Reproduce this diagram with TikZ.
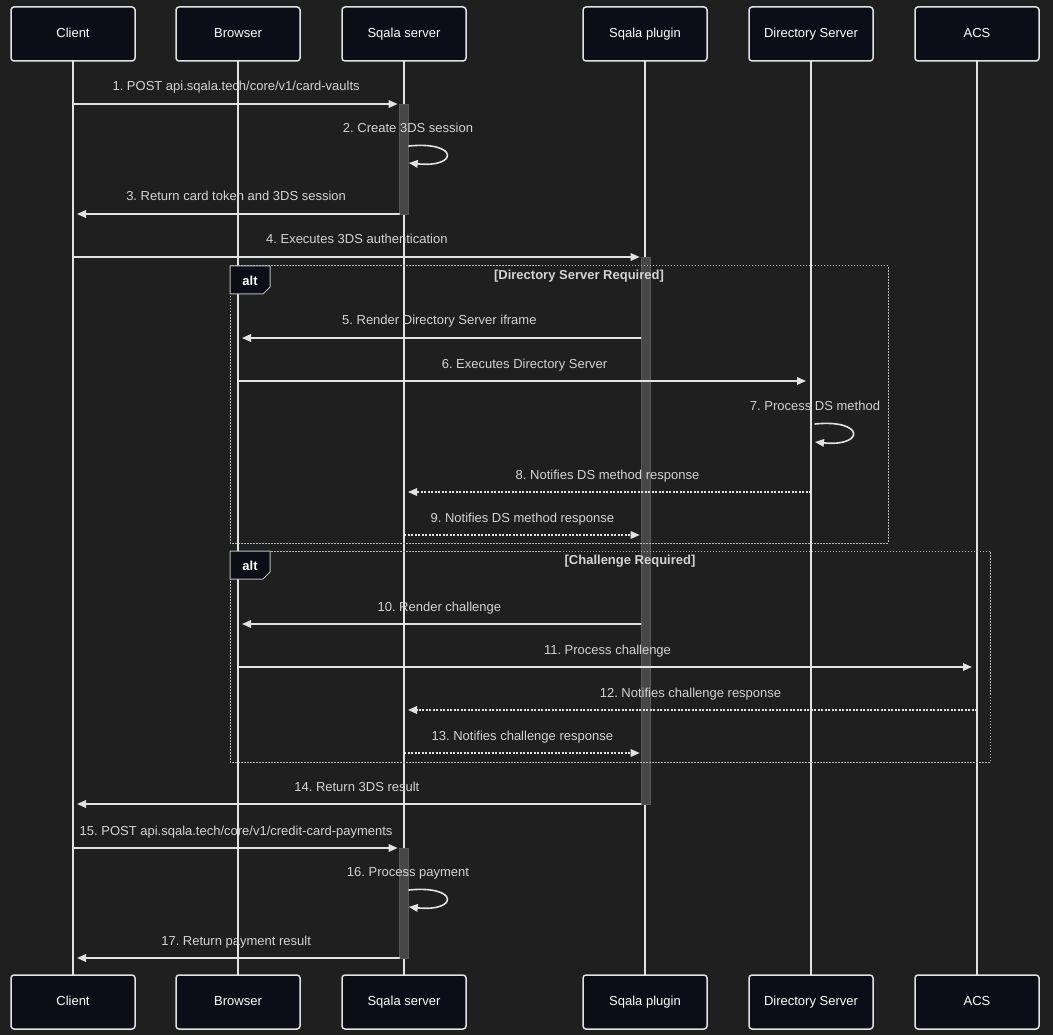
\documentclass[tikz,border=0pt]{standalone}
\usepackage{fontspec}
\setmainfont{Liberation Sans}
\usetikzlibrary{arrows.meta,positioning,calc}
\frenchspacing
\definecolor{bgcol}{HTML}{1F1F1F}
\definecolor{boxcol}{HTML}{0D0D17}
\definecolor{linecol}{HTML}{E2E2E2}
\definecolor{txtcol}{HTML}{D3D3D3}
\definecolor{barcol}{HTML}{474747}
\definecolor{framecol}{HTML}{B8B8B8}
\tikzstyle{every node}=[font=\fontsize{13}{15}\selectfont, text=txtcol]
\tikzstyle{every path}=[line cap=round,line join=round]
\tikzstyle{actor}=[draw=linecol, fill=boxcol, line width=1.5pt, rounded corners=3pt,
  minimum width=124pt, minimum height=54pt, inner sep=0pt, text=white,
  text height=9.5pt, text depth=2.5pt]
\tikzstyle{lifeline}=[draw=linecol, line width=1.5pt]
\tikzstyle{actbar}=[draw=barcol!90!white, fill=barcol, line width=0.6pt,
  minimum width=9pt, inner sep=0pt]
\tikzstyle{msg}=[draw=linecol, line width=1.6pt, -{Triangle[length=9pt,width=7.5pt]}]
\tikzstyle{reply}=[msg, line cap=butt, dash pattern=on 2pt off 1.5pt]
\tikzstyle{msgtxt}=[midway, anchor=base, yshift=13pt, inner sep=0pt]
\tikzstyle{looptxt}=[anchor=base, inner sep=0pt]
\tikzstyle{altframe}=[draw=framecol, line width=1pt, line cap=butt, dash pattern=on 1.5pt off 1.5pt]
\tikzstyle{alttab}=[draw=framecol, fill=boxcol, line width=1pt]
\tikzstyle{alttxt}=[font=\fontsize{13}{15}\selectfont\bfseries, text=white]
\tikzstyle{guard}=[font=\fontsize{13}{15}\selectfont\bfseries, text=txtcol]

\begin{document}
\begin{tikzpicture}[x=1pt,y=-1pt]
  \fill[bgcol] (0,0) rectangle (1053,1035);
  \useasboundingbox (0,0) rectangle (1053,1035);

  % participants, top and bottom
  \foreach \nm/\xx/\txt in {client/73/Client, browser/238/Browser,
    server/404/Sqala server, plugin/645/Sqala plugin,
    ds/811/Directory Server, acs/977/ACS}
  {
    \coordinate (\nm top) at (\xx,34);
    \coordinate (\nm bot) at (\xx,1002);
    \draw[lifeline] (\nm top) -- (\nm bot);
  }

  % activations
  \node[actbar, minimum height=110pt] (srvact1) at (404,159) {};
  \node[actbar, minimum height=547pt] (plugact) at (645.5,530.5) {};
  \node[actbar, minimum height=110pt] (srvact2) at (404,903) {};

  % alt frames
  \draw[altframe] (230,266) rectangle (888,543);
  \draw[altframe] (230,551) rectangle (990,762);

  % messages
  \coordinate (m1) at (0,104);
  \draw[msg, shorten >=1.5pt] (clienttop |- m1) -- (srvact1.west |- m1)
    node[msgtxt] {1. POST api.sqala.tech/core/v1/card-vaults};

  \coordinate (m2) at (0,146);
  \coordinate (m2e) at (0,163);
  \node[looptxt] (m2txt) at (408,132.5) {2. Create 3DS session};
  \draw[msg] (srvact1.east |- m2) .. controls +(50,-5) and +(50,5) .. (srvact1.east |- m2e);

  \coordinate (m3) at (0,214);
  \draw[msg, shorten >=4pt] (srvact1.west |- m3) -- (clienttop |- m3)
    node[msgtxt] {3. Return card token and 3DS session};

  \coordinate (m4) at (0,257);
  \draw[msg, shorten >=1pt] (clienttop |- m4) -- (plugact.west |- m4)
    node[msgtxt] {4. Executes 3DS authentication};

  \coordinate (m5) at (0,338);
  \draw[msg, shorten >=4pt] (plugact.west |- m5) -- (browsertop |- m5)
    node[msgtxt] {5. Render Directory Server iframe};

  \coordinate (m6) at (0,381);
  \draw[msg, shorten >=5pt] (browsertop |- m6) -- (dstop |- m6)
    node[msgtxt] {6. Executes Directory Server};

  \coordinate (m7) at (815,424);
  \coordinate (m7e) at (815,442);
  \node[looptxt] (m7txt) at (815,410.5) {7. Process DS method};
  \draw[msg] (m7) .. controls +(50,-5) and +(50,5) .. (m7e);

  \coordinate (m8) at (0,492);
  \draw[reply, shorten >=4pt] (dstop |- m8) -- (servertop |- m8)
    node[msgtxt] {8. Notifies DS method response};

  \coordinate (m9) at (0,535);
  \draw[reply, shorten >=1pt] (servertop |- m9) -- (plugact.west |- m9)
    node[msgtxt] {9. Notifies DS method response};

  \coordinate (m10) at (0,624);
  \draw[msg, shorten >=4pt] (plugact.west |- m10) -- (browsertop |- m10)
    node[msgtxt] {10. Render challenge};

  \coordinate (m11) at (0,667);
  \draw[msg, shorten >=5pt] (browsertop |- m11) -- (acstop |- m11)
    node[msgtxt] {11. Process challenge};

  \coordinate (m12) at (0,710);
  \draw[reply, shorten >=4pt] (acstop |- m12) -- (servertop |- m12)
    node[msgtxt] {12. Notifies challenge response};

  \coordinate (m13) at (0,753);
  \draw[reply, shorten >=1pt] (servertop |- m13) -- (plugact.west |- m13)
    node[msgtxt] {13. Notifies challenge response};

  \coordinate (m14) at (0,804);
  \draw[msg, shorten >=4pt] (plugact.west |- m14) -- (clienttop |- m14)
    node[msgtxt] {14. Return 3DS result};

  \coordinate (m15) at (0,848);
  \draw[msg, shorten >=1.5pt] (clienttop |- m15) -- (srvact2.west |- m15)
    node[msgtxt] {15. POST api.sqala.tech/core/v1/credit-card-payments};

  \coordinate (m16) at (0,890);
  \coordinate (m16e) at (0,907);
  \node[looptxt] (m16txt) at (408,876.5) {16. Process payment};
  \draw[msg] (srvact2.east |- m16) .. controls +(50,-5) and +(50,5) .. (srvact2.east |- m16e);

  \coordinate (m17) at (0,958);
  \draw[msg, shorten >=4pt] (srvact2.west |- m17) -- (clienttop |- m17)
    node[msgtxt] {17. Return payment result};

  % alt labels
  \foreach \yy/\gx/\gtxt in {266/579/{[Directory Server Required]},
    551/630/{[Challenge Required]}}
  {
    \draw[alttab] (230,\yy) -- (270,\yy) -- (270,\yy+21) -- (263,\yy+28)
      -- (230,\yy+28) -- cycle;
    \node[alttxt] at (250,\yy+15) {alt};
    \node[guard] at (\gx,\yy+10) {\gtxt};
  }

  % participant boxes
  \foreach \nm/\txt in {client/Client, browser/Browser, server/Sqala server,
    plugin/Sqala plugin, ds/Directory Server, acs/ACS}
  {
    \node[actor] (\nm) at (\nm top) {\txt};
    \node[actor] (\nm b) at (\nm bot) {\txt};
  }
\end{tikzpicture}
\end{document}
